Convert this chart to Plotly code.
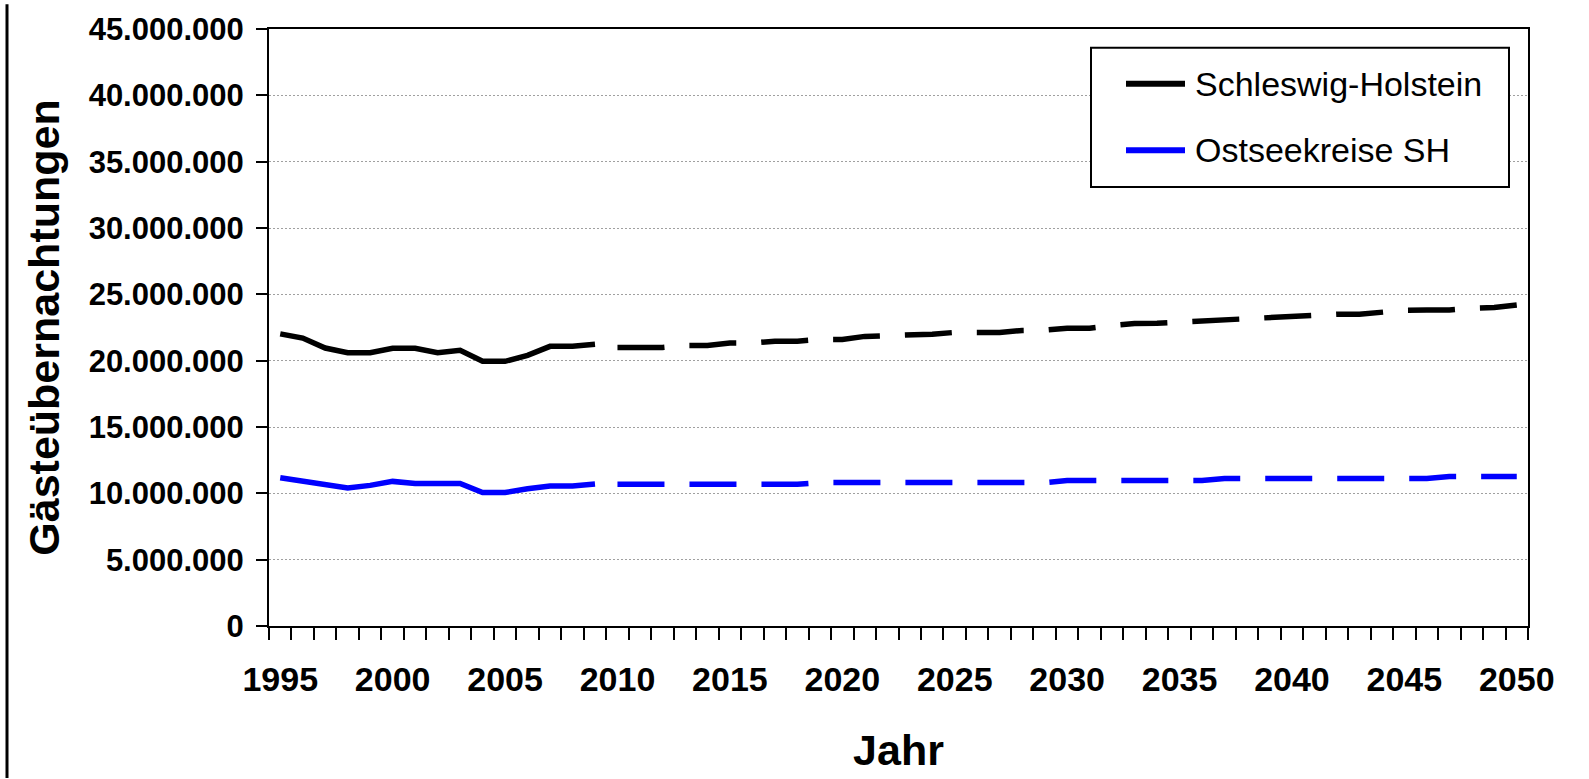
import plotly.graph_objects as go

# ---------------- data (values in million overnight stays) ----------------
years_hist = list(range(1995, 2010))
years_fc = list(range(2010, 2051))

sh_hist_mio = [22.02, 21.70, 20.95, 20.60, 20.60, 20.93, 20.93, 20.60, 20.78,
               19.95, 19.95, 20.40, 21.08, 21.08, 21.23]
ost_hist_mio = [11.17, 10.88, 10.62, 10.40, 10.60, 10.90, 10.74, 10.74, 10.74,
                10.06, 10.06, 10.34, 10.56, 10.56, 10.71]

sh_fc_mio = [21.00, 21.00, 21.00, 21.15, 21.15, 21.33, 21.33, 21.47, 21.47, 21.60,
             21.60, 21.83, 21.87, 21.98, 22.00, 22.13, 22.13, 22.13, 22.28, 22.30,
             22.45, 22.45, 22.65, 22.80, 22.82, 22.90, 23.00, 23.15, 23.15, 23.25,
             23.30, 23.45, 23.50, 23.50, 23.70, 23.80, 23.82, 23.82, 23.95, 24.00,
             24.20]
ost_fc_mio = [10.68, 10.68, 10.68, 10.68, 10.68, 10.68, 10.68, 10.68, 10.68, 10.81,
              10.81, 10.81, 10.81, 10.81, 10.81, 10.81, 10.81, 10.81, 10.81, 10.81,
              10.96, 10.96, 10.96, 10.96, 10.96, 10.96, 10.96, 11.11, 11.11, 11.11,
              11.11, 11.11, 11.11, 11.11, 11.11, 11.11, 11.11, 11.26, 11.26, 11.26,
              11.26]

series_names = ["Schleswig-Holstein", "Ostseekreise SH"]
series_colors = ["#000000", "#0000FF"]
x_tick_years = list(range(1995, 2051, 5))
y_tick_values = list(range(0, 45_000_001, 5_000_000))
x_title = "Jahr"
y_title = "Gästeübernachtungen"

FONT = "Arial, Liberation Sans, sans-serif"
W, H = 1589, 779
ML, MR, MT, MB = 269, 61, 25, 153
PW, PH = W - ML - MR, H - MT - MB


def px_x(x):
    return (x - ML) / PW


def px_y(y):
    return (H - MB - y) / PH


def mio(vals):
    return [v * 1e6 for v in vals]


fig = go.Figure()
for name, color, hist, fc in zip(series_names, series_colors,
                                 [sh_hist_mio, ost_hist_mio],
                                 [sh_fc_mio, ost_fc_mio]):
    fig.add_trace(go.Scatter(x=years_hist, y=mio(hist), mode="lines", name=name,
                             line=dict(color=color, width=5.5), showlegend=False))
    fig.add_trace(go.Scatter(x=years_fc, y=mio(fc), mode="lines", name=name + " (Prognose)",
                             line=dict(color=color, width=5.5, dash="47px,25px"),
                             showlegend=False))

# manual legend (box, line samples, labels)
shapes = [
    dict(type="rect", xref="paper", yref="paper",
         x0=px_x(1091), x1=px_x(1509), y0=px_y(184), y1=px_y(44),
         line=dict(color="black", width=2), fillcolor="white", layer="above"),
    dict(type="line", xref="paper", yref="paper",
         x0=px_x(7), x1=px_x(7), y0=px_y(779), y1=px_y(0),
         line=dict(color="black", width=3)),
]
annotations = []
for i, (name, color) in enumerate(zip(series_names, series_colors)):
    yc = 80 + i * 67
    shapes.append(dict(type="line", xref="paper", yref="paper",
                       x0=px_x(1126), x1=px_x(1185), y0=px_y(yc), y1=px_y(yc),
                       line=dict(color=color, width=6), layer="above"))
    annotations.append(dict(xref="paper", yref="paper", x=px_x(1193), y=px_y(yc),
                            xanchor="left", yanchor="middle", showarrow=False,
                            text=name, font=dict(family=FONT, size=34, color="black")))

fig.update_layout(
    width=W, height=H, autosize=False,
    margin=dict(l=ML, r=MR, t=MT, b=MB, pad=0),
    paper_bgcolor="white", plot_bgcolor="white",
    separators=",.",
    showlegend=False,
    shapes=shapes, annotations=annotations,
    font=dict(family=FONT, color="black"),
)

fig.update_xaxes(
    range=[1994.5, 2050.5], tickmode="array", tickvals=x_tick_years,
    ticks="", showgrid=False, zeroline=False,
    showline=True, linecolor="black", linewidth=2, mirror=True,
    tickfont=dict(family=FONT, size=34, color="black", weight="bold"),
    ticklabelstandoff=22,
    minor=dict(tick0=1994.5, dtick=1, ticks="outside", ticklen=12, tickwidth=2,
               tickcolor="black", showgrid=False),
    title=dict(text=x_title, standoff=38,
               font=dict(family=FONT, size=43, color="black", weight="bold")),
)
fig.update_yaxes(
    range=[0, 45_000_000], tickmode="array", tickvals=y_tick_values, tickformat=",d",
    ticks="outside", ticklen=11, tickwidth=2, tickcolor="black",
    showgrid=True, gridcolor="#a0a0a0", gridwidth=1, griddash="2px,2px",
    zeroline=False,
    showline=True, linecolor="black", linewidth=2, mirror=True,
    tickfont=dict(family=FONT, size=31, color="black", weight="bold"),
    ticklabelstandoff=6,
    title=dict(text=y_title, standoff=16,
               font=dict(family=FONT, size=43, color="black", weight="bold")),
)

fig.write_html("out.html",
               config={"displayModeBar": False},
               post_script="document.body.style.margin='0';document.body.style.overflow='hidden';")
